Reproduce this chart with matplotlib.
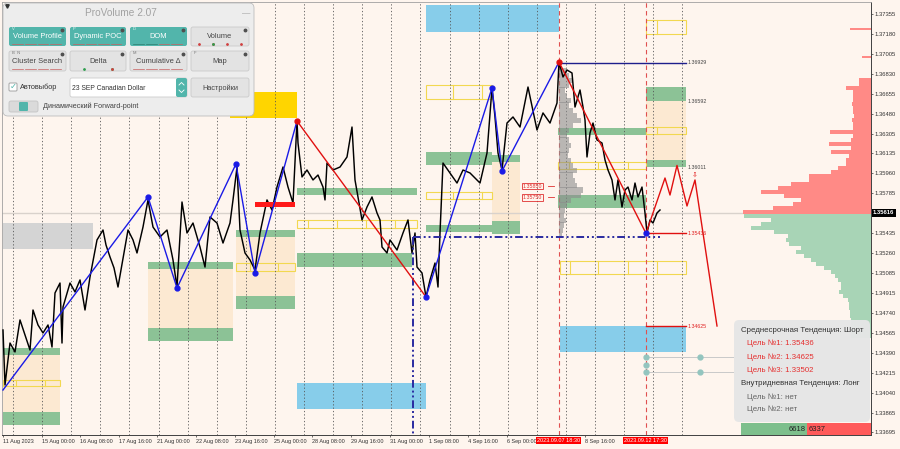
import numpy as np
import matplotlib.pyplot as plt
from matplotlib.patches import Rectangle, FancyBboxPatch

plt.rcParams['font.family'] = ['Liberation Sans', 'DejaVu Sans']

BG = '#FEF5EE'

# price path (chart column, price)
price_x = [3, 5, 10, 15, 20, 25, 30, 33, 38, 43, 48, 52, 55, 60, 62, 63, 70, 75, 80, 85,
           90, 97, 103, 106, 110, 114, 118, 125, 128, 133, 137, 143, 148, 153, 160, 167, 173, 177, 182, 187,
           193, 200, 205, 210, 217, 223, 230, 233, 237, 240, 245, 250, 255, 260, 267, 272, 277, 283, 288, 293, 297,
           298, 302, 307, 313, 318, 323, 325, 327, 333, 340, 347, 352, 355, 358, 362, 367, 372, 377, 380, 382,
           387, 390, 397, 403, 408, 412, 415, 417, 422, 426, 430, 435, 438, 440, 443, 450, 457, 463, 470, 480,
           487, 492, 495, 498, 502, 507, 513, 520, 528, 537, 543, 550, 557, 559,
           563, 567, 572, 575, 580, 583, 585, 587, 590, 593, 597, 602, 605, 608, 612, 615, 618, 622, 625, 628,
           632, 635, 638, 642, 645, 647, 650, 653, 657, 660]
price_y = [1.34590, 1.34109, 1.34476, 1.34398, 1.34678, 1.34546, 1.34415, 1.34765, 1.34634, 1.34564,
           1.34634, 1.34441, 1.34914, 1.35001, 1.34476, 1.34791, 1.35001, 1.34923, 1.35028, 1.34765,
           1.35054, 1.35378, 1.35465, 1.35334, 1.35229, 1.35133, 1.34966, 1.35316, 1.35465, 1.35378,
           1.35264, 1.35491, 1.35728, 1.35491, 1.35404, 1.35465, 1.35203, 1.34966, 1.35710, 1.35439,
           1.35526, 1.35316, 1.35141, 1.35579, 1.35526, 1.35351, 1.35526, 1.35728, 1.36016, 1.35465,
           1.35264, 1.35203, 1.35115, 1.35439, 1.35728, 1.35640, 1.35841, 1.36016, 1.35841, 1.35701, 1.36419,
           1.36226, 1.35929, 1.35990, 1.35903, 1.35946, 1.35841, 1.35728, 1.36051, 1.35990, 1.36016,
           1.36104, 1.36366, 1.35903, 1.35754, 1.35553, 1.35666, 1.35754, 1.35614, 1.35553, 1.35316,
           1.35264, 1.35378, 1.35290, 1.35439, 1.35553, 1.35264, 1.35439, 1.35141, 1.35089, 1.34879,
           1.35028, 1.35176, 1.34966, 1.35439, 1.36051, 1.35964, 1.35876, 1.35990, 1.35964, 1.35876,
           1.36139, 1.36708, 1.36454, 1.36139, 1.35990, 1.36401, 1.36454, 1.36366, 1.36716, 1.36340,
           1.36489, 1.36401, 1.36576, 1.36935,
           1.36804, 1.36865, 1.36839, 1.36541, 1.36690, 1.36541, 1.36428, 1.36104, 1.36314, 1.36401,
           1.36253, 1.36226, 1.36078, 1.35990, 1.35903, 1.35728, 1.35903, 1.35666, 1.35815, 1.35841,
           1.35728, 1.35876, 1.35754, 1.35841, 1.35614, 1.35439, 1.35553, 1.35526, 1.35614, 1.35640]

# zigzag swings
zig_x = [3, 148, 177, 236, 255, 297, 426, 492, 502, 559, 646]
zig_y = [1.34065, 1.35754, 1.34958, 1.36043, 1.35089, 1.36419, 1.34879, 1.36708, 1.35981, 1.36935, 1.35436]
zig_red_legs = [5, 9]
forecast_x = [646, 665, 670, 677, 687, 695, 717]
forecast_y = [1.35436, 1.35920, 1.35771, 1.36030, 1.35675, 1.35903, 1.34625]

current_price = 1.35616
price_ticks = [1.37355, 1.37180, 1.37005, 1.36830, 1.36655, 1.36480, 1.36305, 1.36135, 1.35960,
               1.35785, 1.35435, 1.35260, 1.35085, 1.34915, 1.34740, 1.34565, 1.34390, 1.34215,
               1.34040, 1.33865, 1.33695]
time_pos = [3, 42, 80, 119, 157, 196, 235, 274, 312, 351, 390, 429, 468, 507, 585]
time_labels = ['11 Aug 2023', '15 Aug 00:00', '16 Aug 08:00', '17 Aug 16:00', '21 Aug 00:00',
               '22 Aug 08:00', '23 Aug 16:00', '25 Aug 00:00', '28 Aug 08:00', '29 Aug 16:00',
               '31 Aug 00:00', '1 Sep 08:00', '4 Sep 16:00', '6 Sep 00:00', '8 Sep 16:00']
marker_times = [(559, '2023.09.07 18:30'), (646, '2023.09.12 17:30')]

# zones (x0, x1, upper price, lower price)
green_zones = [(3, 60, 1.34433, 1.34371), (3, 60, 1.33873, 1.33759),
               (148, 233, 1.35185, 1.35124), (148, 233, 1.34608, 1.34494),
               (236, 295, 1.35465, 1.35404), (236, 295, 1.34888, 1.34774),
               (297, 417, 1.35833, 1.35771), (297, 412, 1.35264, 1.35141),
               (426, 492, 1.36148, 1.36034), (492, 520, 1.36121, 1.36060),
               (426, 492, 1.35509, 1.35448), (492, 520, 1.35544, 1.35430),
               (558, 646, 1.36358, 1.36296), (558, 646, 1.35771, 1.35658),
               (646, 686, 1.36716, 1.36594), (646, 686, 1.36078, 1.36016)]
peach_zones = [(3, 60, 1.34371, 1.33873), (148, 233, 1.35124, 1.34608),
               (236, 295, 1.35404, 1.34888), (492, 520, 1.36060, 1.35544),
               (646, 686, 1.36594, 1.36078)]
blue_zones = [(297, 426, 1.34126, 1.33899), (426, 559, 1.37434, 1.37198),
              (560, 686, 1.34625, 1.34398)]
yellow_boxes = [(3, 60, 1.34153, 1.34100, [16, 45]),
                (236, 295, 1.35176, 1.35106, [250, 278]),
                (297, 417, 1.35553, 1.35483, [308, 337, 366, 395]),
                (426, 492, 1.36734, 1.36611, [453, 482]),
                (426, 492, 1.35798, 1.35736, [453, 482]),
                (558, 646, 1.36060, 1.35999, [569, 598, 628]),
                (646, 686, 1.36366, 1.36305, [657]),
                (646, 686, 1.37303, 1.37180, [657]),
                (560, 686, 1.35194, 1.35080, [570, 598, 628, 657])]
gold_zone = (230, 297, 1.36672, 1.36445)
red_bar = (255, 295, 1.35710, 1.35666)
gray_zone = (3, 93, 1.35526, 1.35299)

# level labels
level_labels = [(1.36929, '1.36929', '#444444'), (1.36592, '1.36592', '#444444'),
                (1.36011, '1.36011', '#444444'), (1.35436, '1.35436', '#E02020'),
                (1.34625, '1.34625', '#E02020')]
poc_labels = [1.35850, 1.35750]
support_line = 1.35404

# volume profile on the right (top level, step, volumes)
vp_top = 1.36778
vp_step = 0.00035
vp_volume = [12, 12, 25, 18, 18, 18, 19, 18, 18, 17, 19, 18, 18, 41, 18, 20, 42, 20, 40, 22,
             25, 25, 33, 40, 62, 62, 80, 93, 110, 87, 70, 78, 98, 128,
             127, 100, 110, 120, 97, 83, 85, 82, 70, 75, 67, 60, 55, 47, 40, 36, 33, 30, 30, 32,
             28, 23, 22, 22, 21, 21, 20, 20, 20, 20, 20]
vp_extra = [(1.37224, 21), (1.36979, 9)]

# session profile inside chart
sp_top = 1.36865
sp_step = 0.0004375
sp_volume = [8, 10, 14, 10, 6, 8, 12, 10, 14, 18, 22, 14, 10, 8, 10, 12, 10, 9, 12, 14,
             18, 14, 16, 18, 24, 22, 12, 8, 6, 5, 7, 5, 4, 3]

mark_levels = [1.34354, 1.34284, 1.34223]
targets_mid = ['1.35436', '1.34625', '1.33502']
buy_vol, sell_vol = 6618, 6337

# ---------------- figure ----------------
fig = plt.figure(figsize=(9, 4.49), dpi=100, facecolor=BG)
ax = fig.add_axes([2 / 900, 14 / 449, 869 / 900, 433 / 449])
ax.set_facecolor(BG)
ax.set_xlim(2, 871)
ax.set_ylim(1.3367125, 1.37460)


def rect(x0, x1, hi, lo, fc, z=1, **kw):
    ax.add_patch(Rectangle((x0, lo), x1 - x0, hi - lo, facecolor=fc, edgecolor='none', zorder=z, **kw))


for z in peach_zones:
    rect(*z, '#FCE9D2', z=1)
for z in green_zones:
    rect(*z, '#8CC296', z=1.2)
for z in blue_zones:
    rect(*z, '#87CDEA', z=1.2)
rect(*gold_zone, '#FFD500', z=1.2)
rect(*gray_zone, '#D4D4D4', z=1.2)
rect(*red_bar, '#FF1A1A', z=3.5)
for x0, x1, hi, lo, divs in yellow_boxes:
    ax.add_patch(Rectangle((x0, lo), x1 - x0, hi - lo, facecolor='none', edgecolor='#F2D850', lw=0.8, zorder=1.4))
    for d in divs:
        ax.plot([d, d], [lo, hi], color='#F2D850', lw=0.8, zorder=1.4)

# period separators
for gx in np.arange(13, 690, 29.1):
    ax.axvline(gx, color='#555555', lw=0.6, ls=(0, (1.5, 2.5)), zorder=1.5)
for mx, _ in marker_times:
    ax.axvline(mx, color='#E05050', lw=0.8, ls=(0, (4, 3)), zorder=1.6)

ax.axhline(current_price, color='#D9D2CC', lw=1.0, zorder=1.3)

# volume profiles
vp_levels = vp_top - vp_step * np.arange(len(vp_volume))
vp_colors = ['#FF8A86' if p > current_price else '#A8D4B6' for p in vp_levels]
ax.barh(vp_levels, vp_volume, left=871 - np.array(vp_volume), height=vp_step * 0.95,
        color=vp_colors, zorder=1.3)
for p, v in vp_extra:
    ax.barh(p, v, left=871 - v, height=0.0001, color='#FF8A86', zorder=1.3)

sp_levels = sp_top - sp_step * np.arange(len(sp_volume))
ax.barh(sp_levels, sp_volume, left=559, height=sp_step, color='#8C8C8C', alpha=0.6,
        edgecolor='none', zorder=2)

# price
ax.plot(price_x, price_y, color='black', lw=1.05, zorder=3)

# dash-dot support
ax.plot([413, 660], [support_line, support_line], color='#2A2AA0', lw=1.4,
        ls=(0, (4, 1.5, 1, 1.5, 1, 1.5)), zorder=3.6)
ax.plot([413, 413], [support_line, 1.3367], color='#2A2AA0', lw=1.4,
        ls=(0, (4, 1.5, 1, 1.5, 1, 1.5)), zorder=3.6)

# zigzag
for i in range(len(zig_x) - 1):
    c = '#E01010' if i in zig_red_legs else '#1A1AE6'
    ax.plot(zig_x[i:i + 2], zig_y[i:i + 2], color=c, lw=1.0, zorder=4)
for i, (zx, zy) in enumerate(zip(zig_x[1:], zig_y[1:]), start=1):
    c = '#E01010' if i in (5, 9) else '#1A1AE6'
    ax.plot(zx, zy, 'o', color=c, ms=3.5, zorder=4.5)
ax.plot(forecast_x, forecast_y, color='#E01010', lw=1.0, zorder=4)
ax.text(695, 1.35950, '⇩', color='#E01010', fontsize=5, ha='center', va='center', zorder=4,
        family=['DejaVu Sans'])

# level lines
ax.plot([559, 686], [1.36929, 1.36929], color='#1E1E8C', lw=1.0, zorder=3.8)
ax.plot([646, 686], [1.35436, 1.35436], color='#E01010', lw=1.0, zorder=3.8)
ax.plot([646, 686], [1.34625, 1.34625], color='#E01010', lw=1.0, zorder=3.8)
for p, t, c in level_labels:
    ax.text(688, p, t, color=c, fontsize=3.8, va='center', ha='left', zorder=5)
for p in poc_labels:
    ax.text(523, p, f'{p:.5f}', color='#E03030', fontsize=3.8, va='center', ha='left', zorder=5,
            bbox=dict(boxstyle='square,pad=0.15', fc='none', ec='#E03030', lw=0.6))
    ax.plot([548, 554], [p, p], color='#E03030', lw=0.6, zorder=5)
for p in mark_levels[::2]:
    ax.plot([646, 735], [p, p], color='#C9C9C9', lw=0.7, zorder=3)
for p in mark_levels:
    ax.plot(646, p, 'o', color='#93C5BF', ms=3.5, zorder=3.2)
for p in mark_levels[::2]:
    ax.plot(700, p, 'o', color='#93C5BF', ms=3.5, zorder=3.2)

# axes styling
for s in ['top', 'left']:
    ax.spines[s].set_color('#A0A0A0')
    ax.spines[s].set_linewidth(0.6)
for s in ['right', 'bottom']:
    ax.spines[s].set_color('#404040')
    ax.spines[s].set_linewidth(0.7)
ax.yaxis.tick_right()
ax.set_yticks(price_ticks)
ax.set_yticklabels([f'{p:.5f}' for p in price_ticks])
ax.tick_params(axis='y', labelsize=4.2, length=1.5, pad=0.8, colors='#333333', width=0.5)
ax.set_xticks(time_pos)
ax.set_xticklabels(time_labels)
for lbl in ax.get_xticklabels():
    lbl.set_ha('left')
ax.tick_params(axis='x', labelsize=4, length=1.5, pad=1.2, colors='#333333', width=0.5)

ax.text(873, current_price, f'{current_price:.5f}', color='white', fontsize=4.2, fontweight='bold',
        va='center', ha='left', clip_on=False, zorder=6,
        bbox=dict(boxstyle='square,pad=0.25', fc='black', ec='none'))
for mx, t in marker_times:
    ax.text(mx - 22, -0.0135, t, transform=ax.get_xaxis_transform(), color='white', fontsize=4,
            va='center', ha='left', clip_on=False, zorder=6,
            bbox=dict(boxstyle='square,pad=0.2', fc='#FF0000', ec='none'))

# ---------------- overlay (panel and info box) ----------------
ov = fig.add_axes([0, 0, 1, 1], zorder=5)
ov.set_xlim(0, 900)
ov.set_ylim(449, 0)
ov.axis('off')


def box(x0, y0, x1, y1, fc, ec='none', r=2, lw=0.6, z=1, alpha=1):
    ov.add_patch(FancyBboxPatch((x0, y0), x1 - x0, y1 - y0,
                                boxstyle=f'round,pad=0,rounding_size={r}',
                                fc=fc, ec=ec, lw=lw, zorder=z, alpha=alpha))


TEAL = '#52B5AB'
box(3, 3, 254, 116, '#EDEDED', '#BDBDBD', r=5)
ov.text(121, 13, 'ProVolume 2.07', fontsize=7.3, color='#A2A2A2', ha='center', va='center', zorder=2)
ov.text(246, 14, '—', fontsize=6, color='#999999', ha='center', va='center', zorder=2)
ov.plot(6.5, 5.5, marker='v', ms=2.5, color='#333333', zorder=2)

btn_rows = [['Volume Profile', 'Dynamic POC', 'DOM', 'Volume'],
            ['Cluster Search', 'Delta', 'Cumulative Δ', 'Map']]
btn_keys = [['V', 'P', 'D', ''], ['B  N', '', 'M', 'F']]
btn_active = [[True, True, True, False], [False, False, False, False]]
btn_x = [(9, 66), (70, 126), (130, 187), (191, 249)]
btn_y = [(27, 46), (51, 71)]
for r, (y0, y1) in enumerate(btn_y):
    for c, (x0, x1) in enumerate(btn_x):
        act = btn_active[r][c]
        box(x0, y0, x1, y1, TEAL if act else '#E3E3E3', 'none' if act else '#CACACA', r=2, z=2)
        ov.text((x0 + x1) / 2, (y0 + y1) / 2 + 0.5, btn_rows[r][c], fontsize=5.4,
                color='white' if act else '#444444', ha='center', va='center', zorder=3)
        if btn_keys[r][c]:
            ov.text(x0 + 2.5, y0 + 2.5, btn_keys[r][c], fontsize=3, color='#EAF6F4' if act else '#777777',
                    ha='left', va='center', zorder=3)
        ov.plot(x1 - 4, y0 + 2.8, 'o', ms=1.8, color='#505050', zorder=3)
        if act or c in (0, 2):
            for k in range(4):
                seg = (x1 - x0 - 6) / 4
                ov.plot([x0 + 3 + k * seg, x0 + 1 + (k + 1) * seg], [y1 - 2.5] * 2,
                        color='#C86060' if not (act and r == 0 and c == 2 and k < 2) else '#2E7D6E',
                        lw=0.5, zorder=3)
ov.plot([199, 213, 227, 241], [44] * 4, 'o', ms=1, color='#D04040', zorder=3)
ov.plot(213, 44, 'o', ms=1, color='#2E9E4E', zorder=3)
ov.plot([84, 112], [68.5, 68.5], 'o', ms=1, color='#2E9E4E', zorder=3)
ov.plot(112, 68.5, 'o', ms=1, color='#D04040', zorder=3)

box(9, 83, 17, 91, 'white', '#999999', r=1, z=2)
ov.text(13.3, 86.5, '✓', color=TEAL, fontsize=6, ha='center', va='center', zorder=3,
        family=['DejaVu Sans'])
ov.text(19.5, 87.5, 'Автовыбор', fontsize=5.3, color='#333333', ha='left', va='center', zorder=3)
box(70, 78, 187, 97, 'white', '#CCCCCC', r=2, z=2)
ov.text(72.5, 88, '23 SEP Canadian Dollar', fontsize=4.9, color='#333333', ha='left', va='center', zorder=3)
box(176, 78, 187, 97, TEAL, r=2, z=3)
ov.plot([179, 181.5, 184], [85, 82.5, 85], color='white', lw=0.6, zorder=4)
ov.plot([179, 181.5, 184], [90, 92.5, 90], color='white', lw=0.6, zorder=4)
box(191, 78, 249, 97, '#E3E3E3', '#CACACA', r=2, z=2)
ov.text(220, 88, 'Настройки', fontsize=5.3, color='#444444', ha='center', va='center', zorder=3)
box(9, 101, 38, 112, '#DADADA', '#C4C4C4', r=2, z=2)
box(19, 102, 28, 111, TEAL, r=1, z=3)
ov.text(43, 106.5, 'Динамический Forward-point', fontsize=5.2, color='#444444', ha='left', va='center', zorder=3)

# info box
box(734, 320, 870, 422, '#E6E6E6', r=5, z=1, alpha=0.97)
info_lines = [(741, 330, 'Среднесрочная Тенденция: Шорт', '#333333')]
for i, t in enumerate(targets_mid):
    info_lines.append((747, 343.5 + i * 13.3, f'Цель №{i + 1}: {t}', '#E53030'))
info_lines += [(741, 383.5, 'Внутридневная Тенденция: Лонг', '#333333'),
               (747, 397, 'Цель №1: нет', '#666666'),
               (747, 409.5, 'Цель №2: нет', '#666666')]
for x, y, t, c in info_lines:
    ov.text(x, y, t, fontsize=5.7, color=c, ha='left', va='center', zorder=2)

# buy / sell bar
total = buy_vol + sell_vol
split = 741 + 130 * buy_vol / total
ov.add_patch(Rectangle((741, 423), split - 741, 12, fc='#7DBF8C', ec='none', zorder=2))
ov.add_patch(Rectangle((split, 423), 871 - split, 12, fc='#FF5A5A', ec='none', zorder=2))
ov.text(split - 1.5, 429.5, str(buy_vol), fontsize=5.5, color='#222222', ha='right', va='center', zorder=3)
ov.text(split + 1.5, 429.5, str(sell_vol), fontsize=5.5, color='#222222', ha='left', va='center', zorder=3)

fig.savefig('out.png', dpi=100, facecolor=BG)
